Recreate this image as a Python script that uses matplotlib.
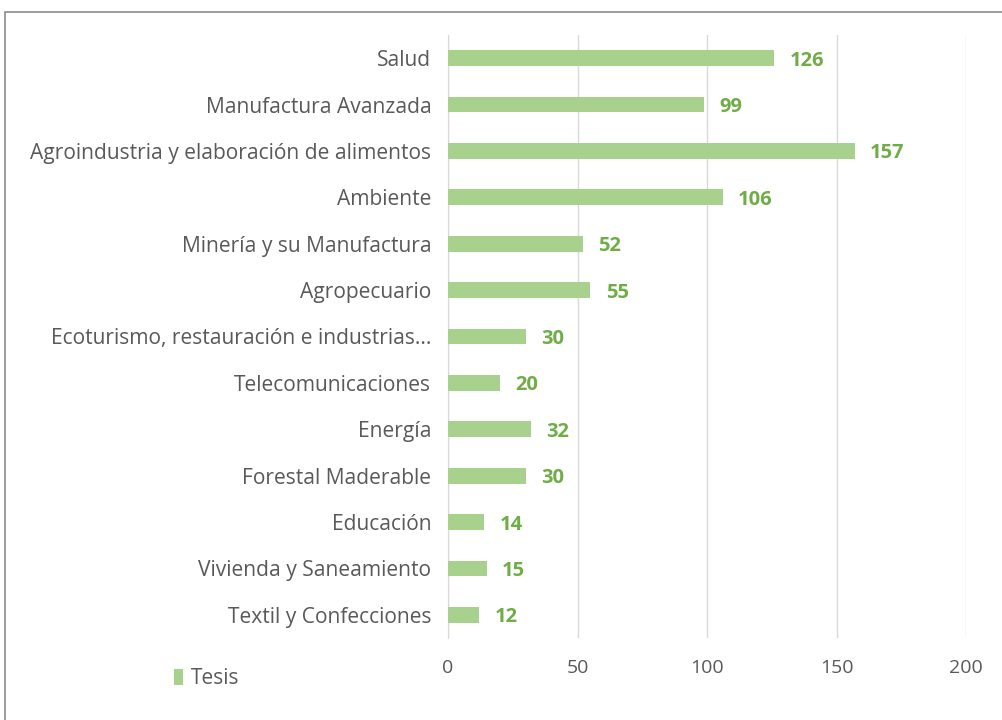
import matplotlib
matplotlib.use("Agg")
import matplotlib.pyplot as plt
from matplotlib.patches import Rectangle, Patch

categories = [
    "Salud",
    "Manufactura Avanzada",
    "Agroindustria y elaboración de alimentos",
    "Ambiente",
    "Minería y su Manufactura",
    "Agropecuario",
    "Ecoturismo, restauración e industrias...",
    "Telecomunicaciones",
    "Energía",
    "Forestal Maderable",
    "Educación",
    "Vivienda y Saneamiento",
    "Textil y Confecciones",
]
tesis = [126, 99, 157, 106, 52, 55, 30, 20, 32, 30, 14, 15, 12]
xticks = [0, 50, 100, 150, 200]
series_name = "Tesis"

BAR = "#A9D18E"
LABEL = "#70AD47"
TEXT = "#595959"
GRID = "#D9D9D9"

plt.rcParams["font.family"] = ["Open Sans", "DejaVu Sans"]

fig = plt.figure(figsize=(10.03, 7.2), dpi=100)
fig.patch.set_facecolor("white")

# chart frame
fig.patches.append(Rectangle((5 / 1003, -0.1), 1.2, (720 - 12) / 720 + 0.1,
                             transform=fig.transFigure, fill=False,
                             edgecolor="#8C8C8C", linewidth=1.2))

ax = fig.add_axes([448 / 1003, 1 - 638 / 720, (966 - 448) / 1003, (638 - 35) / 720])
y = list(range(len(categories)))
ax.barh(y, tesis, height=0.34, color=BAR, zorder=3)
ax.set_ylim(len(categories) - 0.5, -0.5)
ax.set_xlim(0, 200)
ax.set_yticks(y)
ax.set_yticklabels(categories, fontsize=15.1, color=TEXT)
ax.set_xticks(xticks)
ax.set_xticklabels([str(t) for t in xticks], fontsize=14, color=TEXT)
ax.tick_params(axis="both", length=0)
ax.tick_params(axis="y", pad=12)
ax.tick_params(axis="x", pad=15)
ax.grid(axis="x", color=GRID, linewidth=1, zorder=0)
for s in ["top", "right", "bottom"]:
    ax.spines[s].set_visible(False)
ax.spines["left"].set_color(GRID)

for yi, v in zip(y, tesis):
    ax.annotate(str(v), (v, yi), xytext=(11, 0), textcoords="offset points",
                va="center_baseline", ha="left", fontsize=14.5,
                fontweight="bold", color=LABEL)

fig.legend(handles=[Patch(facecolor=BAR, label=series_name)],
           loc="center left", bbox_to_anchor=(155 / 1003, 1 - 679 / 720),
           frameon=False, fontsize=15, labelcolor=TEXT,
           handlelength=0.45, handleheight=0.8, handletextpad=0.35)

fig.savefig("out.png", dpi=100)
